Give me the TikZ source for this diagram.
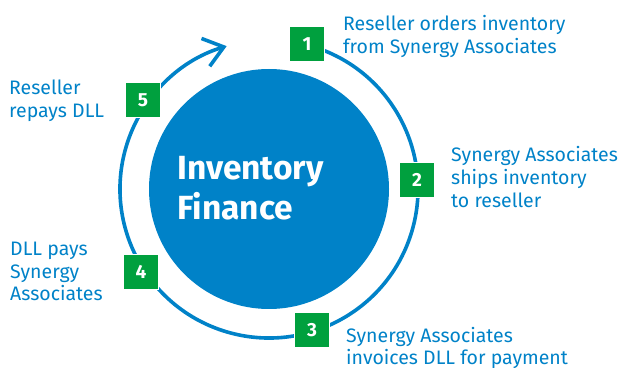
\documentclass[tikz,border=0pt]{standalone}
\usepackage{fontspec}
\setmainfont{Fira Sans}
\usetikzlibrary{arrows.meta}
\definecolor{dllblue}{HTML}{0082C8}
\definecolor{stepgreen}{HTML}{00A03E}

\begin{document}
\begin{tikzpicture}[x=1pt,y=1pt,every node/.style={font=\fontsize{19.5}{23}\selectfont, text=dllblue},stepbox/.style={rectangle, fill=stepgreen, draw=white, line width=0.8pt, minimum size=35pt, inner sep=0pt, text=white, font=\fontsize{19}{20}\selectfont\bfseries},caption/.style={anchor=base west, align=left, inner sep=0pt},ring/.style={draw=dllblue, line width=3.6pt, -{Straight Barb[length=19pt, width=29pt, line width=3.6pt]}}]
  \useasboundingbox (0,0) rectangle (624,367);
  \node[circle, fill=dllblue, minimum size=240pt, inner sep=0pt] (hub) at (269,178) {};
  \node[anchor=base west, align=left, inner sep=0pt, text=white, font=\fontsize{33.5}{40}\selectfont\bfseries] (title) at (177,147) {Inventory\\Finance};
  \draw[ring] (hub.center) ++(75:149) arc[start angle=75, end angle=-253.5, radius=149];
  \node[stepbox] (s1) at (307,323) {1};
  \node[stepbox] (s2) at (417,187) {2};
  \node[stepbox] (s3) at (312,37) {3};
  \node[stepbox] (s4) at (141,95) {4};
  \node[stepbox] (s5) at (143,267) {5};
  \node[caption] (c1) at (343,313) {Reseller orders inventory\\from Synergy Associates};
  \node[caption] (c2) at (451,159.7) {Synergy Associates\\ships inventory\\to reseller};
  \node[caption] (c3) at (346,2) {Synergy Associates\\invoices DLL for payment};
  \node[caption] (c4) at (10,66) {DLL pays\\Synergy\\Associates};
  \node[caption] (c5) at (9,249.7) {Reseller\\repays DLL};
\end{tikzpicture}
\end{document}
